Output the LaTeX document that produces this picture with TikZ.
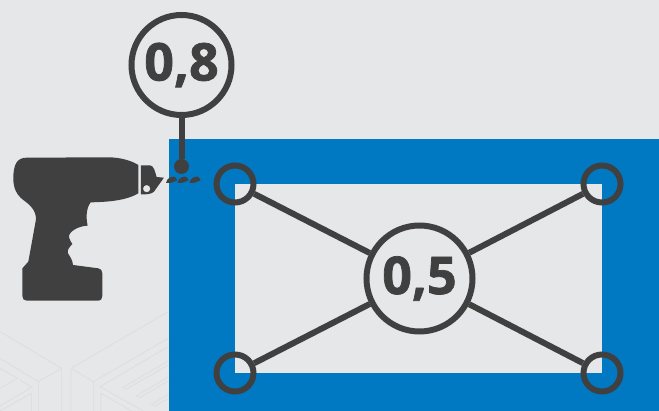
\documentclass[tikz,border=0pt]{standalone}
\usepackage{fontspec}
\setmainfont[BoldFeatures={FakeBold=1.4}]{Open Sans}
\definecolor{bgrey}{HTML}{E6E7E9}
\definecolor{pgrey}{HTML}{DEDFE1}
\definecolor{dgrey}{HTML}{404041}
\definecolor{bblue}{HTML}{0079C2}
\tikzset{
  ring/.style={draw=dgrey,circle,line width=6pt,inner sep=0pt},
  bigring/.style={ring,fill=bgrey,minimum size=#1,font=\fontsize{52}{52}\selectfont\bfseries,text=dgrey},
  smallring/.style={ring,minimum size=37pt},
  link/.style={draw=dgrey,line width=6pt},
  pattern/.style={draw=pgrey,line width=1pt},
}
\begin{document}
\begin{tikzpicture}[x=1pt,y=-1pt]
\useasboundingbox (0,0) rectangle (659,411);
\fill[bgrey] (0,0) rectangle (659,411);
% faint pattern, traced in 3x coordinates
\begin{scope}[shift={(0,300)},x=0.3333pt,y=-0.3333pt]
\draw[pattern] (0,95) -- (185,205) -- (115,245) -- (0,175);
\draw[pattern] (115,245) -- (115,333);
\draw[pattern] (185,205) -- (185,333);
\draw[pattern] (0,205) -- (52,235) -- (0,265);
\draw[pattern] (60,240) -- (95,262) -- (0,318);
\draw[pattern] (95,280) -- (95,333);
\draw[pattern] (95,280) -- (0,333);
\draw[pattern] (213,333) -- (213,205) -- (505,35);
\draw[pattern] (213,205) -- (280,245) -- (505,115);
\draw[pattern] (280,245) -- (280,333);
\draw[pattern] (505,140) -- (300,260) -- (430,333);
\draw[pattern] (303,333) -- (303,280) -- (395,333);
\draw[pattern] (505,183) -- (368,262) -- (378,268) -- (505,195);
\draw[pattern] (505,231) -- (410,287) -- (420,293) -- (505,243);
\draw[pattern] (505,283) -- (455,313) -- (465,318) -- (505,295);
\end{scope}
\fill[bblue] (169,139) rectangle (659,411);
\fill[bgrey] (235,184) rectangle (602,373);
\node[bigring=106pt] (middle) at (419.5,278.5) {0,5};
\node[bigring=100pt] (depth) at (181.5,65) {0,8};
\node[smallring] (topleft) at (235,184) {};
\node[smallring] (topright) at (602,184) {};
\node[smallring] (botleft) at (235,373) {};
\node[smallring] (botright) at (602,373) {};
\draw[link] (topleft) -- (middle);
\draw[link] (topright) -- (middle);
\draw[link] (botleft) -- (middle);
\draw[link] (botright) -- (middle);
\node[circle,fill=dgrey,minimum size=15pt,inner sep=0pt] (tip) at (181.5,166.5) {};
\draw[link] (depth) -- (tip);
% drill, traced in 3x coordinates
\begin{scope}[shift={(0,130)},x=0.3333pt,y=-0.3333pt]
\fill[dgrey] (80,83) -- (325,82) .. controls (360,82) and (395,92) .. (415,105)
  -- (415,190) .. controls (385,208) and (340,216) .. (272,217)
  .. controls (258,235) and (258,265) .. (263,287)
  .. controls (235,288) and (205,305) .. (207,322)
  .. controls (208,332) and (215,335) .. (217,342)
  .. controls (210,350) and (200,360) .. (204,370)
  .. controls (210,380) and (218,390) .. (219,405)
  -- (295,415) .. controls (303,416) and (307,422) .. (307,430)
  -- (307,498) .. controls (307,507) and (303,512) .. (293,512)
  -- (80,512) .. controls (72,512) and (67,507) .. (67,498)
  -- (67,415) -- (85,395) -- (108,268)
  .. controls (108,240) and (90,225) .. (70,210)
  .. controls (50,195) and (40,175) .. (40,145)
  .. controls (40,105) and (50,83) .. (80,83) -- cycle;
\fill[dgrey,even odd rule] (423,106) -- (450,106) .. controls (462,107) and (465,125) .. (470,141)
  -- (492,143) -- (462,185) .. controls (455,192) and (440,194) .. (423,193) -- cycle
  (440,176) circle[radius=11];
\foreach \bitx in {513,547,583}
  \fill[dgrey] (\bitx-15,159) .. controls (\bitx-12,145) and (\bitx,139) .. (\bitx+10,140)
    .. controls (\bitx+13,140) and (\bitx+16,146) .. (\bitx+19,151)
    .. controls (\bitx+10,156) and (\bitx,160) .. (\bitx-15,159) -- cycle;
\end{scope}
\end{tikzpicture}
\end{document}
